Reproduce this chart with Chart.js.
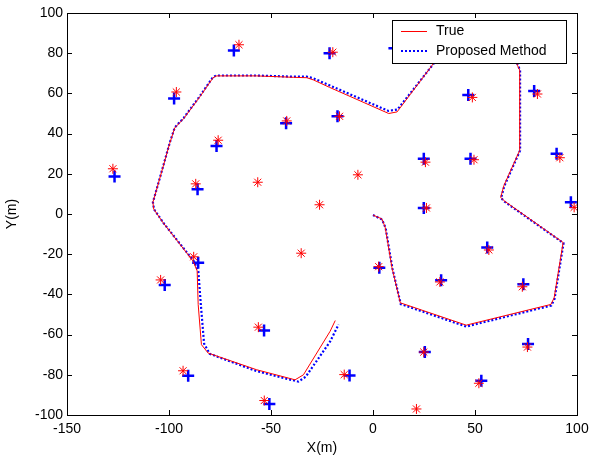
<!DOCTYPE html>
<html>
<head>
<meta charset="utf-8">
<script src="https://cdn.jsdelivr.net/npm/chart.js@4/dist/chart.umd.min.js"></script>
<style>
  html, body { margin: 0; padding: 0; background: #fff; }
  #wrap { width: 589px; height: 461px; }
</style>
</head>
<body>
<div id="wrap"><canvas id="c" width="589" height="461"></canvas></div>
<script>
// true robot path
const trueX = [0, 4.4, 6, 9.3, 13.4, 45.7, 87.2, 88.8, 93.2, 64.2, 62.6, 64.2, 71.9, 71.9, 70.8, 68, 50, 34, 29, 11.8, 7.7, -21.3, -29.2, -32.4, -39, -57, -76.7, -78.4, -84.9, -92.8, -97.2, -99.7, -106.2, -107.9, -107.5, -103, -88.2, -86.2, -85.7, -84.1, -80.8, -57, -38.2, -34.1, -21, -18.5];
const trueY = [-0.5, -2.5, -6.7, -26.7, -44.2, -55.3, -45, -41.7, -14.2, 6.6, 8.3, 14.2, 31.6, 71.6, 74, 82, 86, 82, 74, 50.8, 50, 63, 66.7, 67.8, 68, 68.7, 68.7, 67.8, 58.3, 47.5, 42.8, 35, 11.7, 5.8, 2.5, -4.2, -23.4, -28.3, -45, -65, -69.2, -77.5, -82.5, -80, -58.3, -53];

// estimated path (proposed method)
const estX = [0, 4.4, 6.2, 9.5, 13.6, 45.7, 87.4, 89, 93.4, 64.4, 62.8, 64.4, 72.1, 72.1, 71, 68, 50, 34, 29.5, 12, 7.5, -21.3, -29.2, -32.4, -39, -57, -76.7, -78.4, -84.9, -92.8, -97.2, -99.7, -106.2, -107.9, -107.3, -102.6, -87.6, -85.6, -84.4, -82.8, -80, -57, -36.6, -33, -21, -16.9];
const estY = [-0.5, -2.7, -7, -27, -44.8, -56, -45.5, -42.2, -14.5, 6.2, 8, 14, 31.6, 71.6, 74, 82, 86, 82, 74.5, 52, 51.3, 64, 67.5, 68.3, 68.3, 68.9, 68.9, 68.2, 58.6, 47.8, 43, 35.2, 11.8, 5.8, 2.3, -4.6, -23.8, -28.6, -45, -64.5, -69.6, -78.2, -83.4, -81, -63.4, -55];

// landmarks, true positions
const lmTrueX = [-65.7, -19.7, -96.4, 48.7, 80.6, -16.4, -42.3, -75.9, 91.6, 25.7, 49.5, -127.5, -7.4, -56.5, -86.9, -26.2, 26.2, 98.6, -35.2, 56.8, -87.9, 2.8, -104.1, 32.8, 73.2, -56.2, 75.7, 24.9, -93.1, -14.1, 51.9, -53.3, 21.3, 13];
const lmTrueY = [84.2, 80.5, 60.7, 58, 59.7, 48.6, 46.3, 36.7, 28, 25.8, 27, 22.5, 19.5, 15.8, 15, 4.6, 3, 3.3, -19.5, -17.9, -21.3, -26.2, -32.8, -33.8, -36.2, -56.3, -66.2, -68.7, -78, -79.9, -84.2, -92.8, -97, 83];

// landmarks, estimated positions
const lmEstX = [-68.2, -21.3, -97.5, 46.7, 79, -17.4, -42.6, -76.7, 90, 24.9, 47.8, -126.7, -86, 24.9, 97, 56, -85.7, 3.1, -102.1, 33.4, 73.7, -53.4, 76, 25.4, -90.6, -11.5, 53.1, -50.8, 10.5];
const lmEstY = [81.3, 80, 57.5, 59.2, 61.2, 48.6, 45.2, 33.8, 30, 27.5, 27.5, 18.7, 12.3, 3, 5.8, -16.7, -24.2, -26.7, -35.3, -33, -35, -58, -64.7, -68.7, -80.5, -80.3, -83, -94.5, 82.5];

const xTicks = [-150, -100, -50, 0, 50, 100];
const yTicks = [-100, -80, -60, -40, -20, 0, 20, 40, 60, 80, 100];

const pts = (xs, ys) => xs.map((x, i) => ({ x: x, y: ys[i] }));

const FONT = 'Arial, "Liberation Sans", sans-serif';

// box, inward ticks and the legend drawn on top of the data
const framePlugin = {
  id: 'frame',
  afterDatasetsDraw(chart) {
    const ctx = chart.ctx;
    const a = chart.chartArea;
    const xs = chart.scales.x, ys = chart.scales.y;
    ctx.save();
    ctx.strokeStyle = '#000';
    ctx.lineWidth = 1;
    ctx.beginPath();
    xTicks.forEach(v => {
      const p = Math.round(xs.getPixelForValue(v)) + 0.5;
      ctx.moveTo(p, a.bottom); ctx.lineTo(p, a.bottom - 5);
      ctx.moveTo(p, a.top); ctx.lineTo(p, a.top + 5);
    });
    yTicks.forEach(v => {
      const p = Math.round(ys.getPixelForValue(v)) + 0.5;
      ctx.moveTo(a.left, p); ctx.lineTo(a.left + 5, p);
      ctx.moveTo(a.right, p); ctx.lineTo(a.right - 5, p);
    });
    ctx.stroke();
    ctx.strokeRect(Math.round(a.left) + 0.5, Math.round(a.top) + 0.5,
      Math.round(a.right - a.left), Math.round(a.bottom - a.top));

    // legend
    const lx = 392.5, ly = 20.5, lw = 174, lh = 43;
    ctx.fillStyle = '#fff';
    ctx.fillRect(lx, ly, lw, lh);
    ctx.strokeRect(lx, ly, lw, lh);
    ctx.strokeStyle = '#ff0000';
    ctx.lineWidth = 1;
    ctx.beginPath(); ctx.moveTo(401, 31.5); ctx.lineTo(427, 31.5); ctx.stroke();
    ctx.strokeStyle = '#0000ff';
    ctx.lineWidth = 2;
    ctx.setLineDash([2, 2]);
    ctx.beginPath(); ctx.moveTo(401, 51); ctx.lineTo(427, 51); ctx.stroke();
    ctx.setLineDash([]);
    ctx.fillStyle = '#000';
    ctx.font = '14px ' + FONT;
    ctx.textBaseline = 'middle';
    ctx.fillText('True', 436, 31);
    ctx.fillText('Proposed Method', 436, 51);
    ctx.restore();
  }
};

new Chart(document.getElementById('c'), {
  type: 'scatter',
  data: {
    datasets: [
      {
        label: 'True',
        data: pts(trueX, trueY),
        showLine: true,
        borderColor: '#ff0000',
        borderWidth: 1,
        pointRadius: 0,
        tension: 0
      },
      {
        label: 'Proposed Method',
        data: pts(estX, estY),
        showLine: true,
        borderColor: '#0000ff',
        borderWidth: 2.2,
        borderDash: [2, 2],
        pointRadius: 0,
        tension: 0
      },
      {
        label: 'landmarks true',
        data: pts(lmTrueX, lmTrueY),
        pointStyle: 'star',
        pointRadius: 5,
        borderColor: '#ff0000',
        backgroundColor: '#ff0000',
        borderWidth: 1
      },
      {
        label: 'landmarks estimated',
        data: pts(lmEstX, lmEstY),
        pointStyle: 'cross',
        pointRadius: 6,
        borderColor: '#0000ff',
        backgroundColor: '#0000ff',
        borderWidth: 2.5
      }
    ]
  },
  options: {
    responsive: false,
    animation: false,
    layout: { padding: { left: 0, right: 12, top: 13, bottom: 0 } },
    plugins: {
      legend: { display: false },
      tooltip: { enabled: false }
    },
    scales: {
      x: {
        type: 'linear',
        min: -150,
        max: 100,
        afterFit: s => { s.height = 46; s.paddingLeft = 0; s.paddingRight = 0; },
        afterBuildTicks: s => { s.ticks = xTicks.map(v => ({ value: v })); },
        grid: { display: false, drawTicks: false },
        border: { display: false },
        ticks: { color: '#000', font: { size: 14, family: FONT }, padding: 6, maxRotation: 0 },
        title: { display: true, text: 'X(m)', color: '#000', font: { size: 14, family: FONT }, padding: { top: 0, bottom: 4 } }
      },
      y: {
        type: 'linear',
        min: -100,
        max: 100,
        afterFit: s => { s.width = 67; s.paddingTop = 0; s.paddingBottom = 0; },
        afterBuildTicks: s => { s.ticks = yTicks.map(v => ({ value: v })); },
        grid: { display: false, drawTicks: false },
        border: { display: false },
        ticks: { color: '#000', font: { size: 14, family: FONT }, padding: 4 },
        title: { display: true, text: 'Y(m)', color: '#000', font: { size: 14, family: FONT }, padding: { top: 4, bottom: 0 } }
      }
    }
  },
  plugins: [framePlugin]
});
</script>
</body>
</html>
